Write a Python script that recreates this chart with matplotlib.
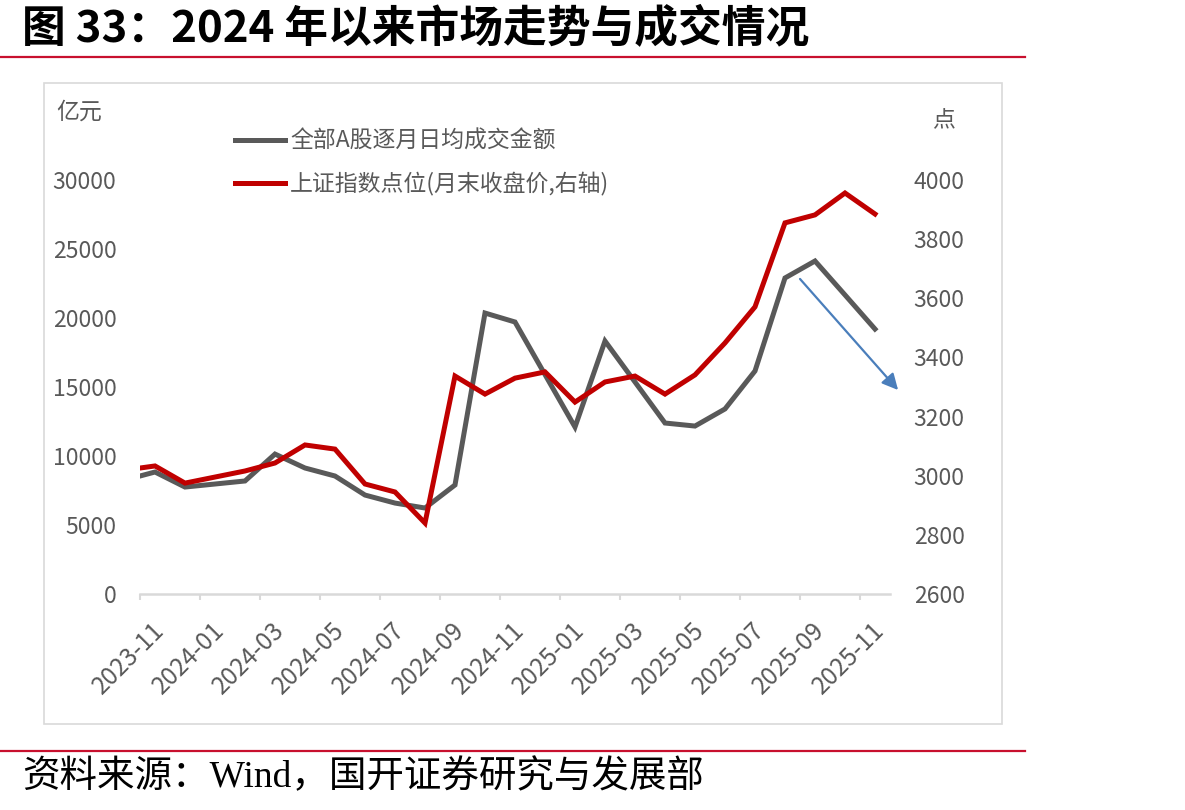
import numpy as np
import matplotlib
matplotlib.use('Agg')
from matplotlib import pyplot as plt
from matplotlib.lines import Line2D
from matplotlib.patches import Rectangle
from matplotlib.transforms import ScaledTranslation

plt.rcParams['font.family'] = ['Noto Sans CJK SC', 'DejaVu Sans']

# 月度数据（2023-10 仅用于画出左端被截断的线段，2024-01 缺失）
months = ['2023-10', '2023-11', '2023-12', '2024-01', '2024-02', '2024-03', '2024-04',
          '2024-05', '2024-06', '2024-07', '2024-08', '2024-09', '2024-10', '2024-11',
          '2024-12', '2025-01', '2025-02', '2025-03', '2025-04', '2025-05', '2025-06',
          '2025-07', '2025-08', '2025-09', '2025-10', '2025-11']
turnover = [8260, 8840, 7750, np.nan, 8190, 10140, 9130, 8550, 7170, 6590, 6230, 7900,
            20360, 19710, 15900, 12100, 18330, 15360, 12390, 12170, 13410, 16160,
            22900, 24130, 21670, 19200]
sse_close = [3019, 3033, 2975, np.nan, 3016, 3043, 3104, 3090, 2972, 2945, 2840, 3337,
             3276, 3330, 3351, 3249, 3317, 3337, 3276, 3341, 3449, 3571, 3855, 3882,
             3956, 3885]
label1 = '全部A股逐月日均成交金额'
label2 = '上证指数点位(月末收盘价,右轴)'

GRAY = '#595959'
RED = '#c00000'
LIGHT = '#d9d9d9'
FS = 16.5

W, H = 1185, 810
fig = plt.figure(figsize=(W / 100, H / 100), dpi=100)

x = np.arange(len(months)) - 0.5   # 月中位置, 0 = 2023-11 起点
t = np.array(turnover, dtype=float)
s = np.array(sse_close, dtype=float)
mt = ~np.isnan(t)
ms = ~np.isnan(s)

ax = fig.add_axes([140 / W, 1 - 594 / H, 750 / W, 414 / H])
ax2 = ax.twinx()

ax.plot(x[mt], t[mt], color=GRAY, lw=3.6, solid_joinstyle='miter')
ax2.plot(x[ms], s[ms], color=RED, lw=3.6, solid_joinstyle='miter')

ax.set_xlim(0, 25)
ax.set_ylim(0, 30000)
ax2.set_ylim(2600, 4000)
ax.set_yticks(np.arange(0, 30001, 5000))
ax2.set_yticks(np.arange(2600, 4001, 200))

ticks = np.arange(0, 25, 2)
ax.set_xticks(ticks)
ax.set_xticklabels(months[1::2])

for a in (ax, ax2):
    for sp in a.spines.values():
        sp.set_visible(False)
ax.spines['bottom'].set_visible(True)
ax.spines['bottom'].set_color(LIGHT)
ax.spines['bottom'].set_linewidth(1.8)

ax.tick_params(axis='y', length=0, pad=17, labelsize=FS, labelcolor=GRAY)
ax2.tick_params(axis='y', length=0, pad=17, labelsize=FS, labelcolor=GRAY)
ax.tick_params(axis='x', length=4.5, width=1.5, color=LIGHT, pad=19,
               labelsize=17.5, labelcolor=GRAY)
offset = ScaledTranslation(0.21, 0, fig.dpi_scale_trans)
for lab in ax.get_xticklabels():
    lab.set_rotation(45)
    lab.set_ha('right')
    lab.set_va('center')
    lab.set_rotation_mode('anchor')
    lab.set_transform(lab.get_transform() + offset)

# 趋势箭头
ax.annotate('', xy=(25.27, 14780), xytext=(22.0, 22830), annotation_clip=False,
            arrowprops=dict(arrowstyle='-|>', color='#4a7ebb', lw=1.6,
                            mutation_scale=24, shrinkA=0, shrinkB=0))

# 图例
handles = [Line2D([], [], color=GRAY, lw=3.6), Line2D([], [], color=RED, lw=3.6)]
fig.legend(handles, [label1, label2], loc='upper left',
           bbox_to_anchor=(235 / W, 1 - 130 / H), frameon=False, fontsize=FS,
           labelcolor=GRAY, handlelength=2.2, handletextpad=0.2, labelspacing=0.85,
           borderpad=0, borderaxespad=0)

fig.text(56 / W, 1 - 112 / H, '亿元', fontsize=FS, color=GRAY, ha='left', va='center')
fig.text(944 / W, 1 - 121 / H, '点', fontsize=FS, color=GRAY, ha='center', va='center')

# 外框
fig.patches.append(Rectangle((44 / W, 1 - 724 / H), 958 / W, 641 / H,
                             transform=fig.transFigure, fill=False,
                             edgecolor=LIGHT, lw=1.2))

# 标题与来源
fig.text(22 / W, 1 - 28 / H, '图 33：2024 年以来市场走势与成交情况',
         fontsize=31.5, fontweight='bold', color='black', ha='left', va='center')
fig.add_artist(Line2D([0, 1025 / W], [1 - 57 / H, 1 - 57 / H],
                      transform=fig.transFigure, color='#c8102e', lw=1.6))
fig.add_artist(Line2D([0, 1025 / W], [1 - 751 / H, 1 - 751 / H],
                      transform=fig.transFigure, color='#c8102e', lw=1.6))
fig.text(22 / W, 1 - 777 / H, '资料来源：Wind，国开证券研究与发展部',
         fontsize=27, color='black', ha='left', va='center',
         family=['Liberation Serif', 'Noto Sans CJK SC'])

fig.savefig('out.png', dpi=100)
